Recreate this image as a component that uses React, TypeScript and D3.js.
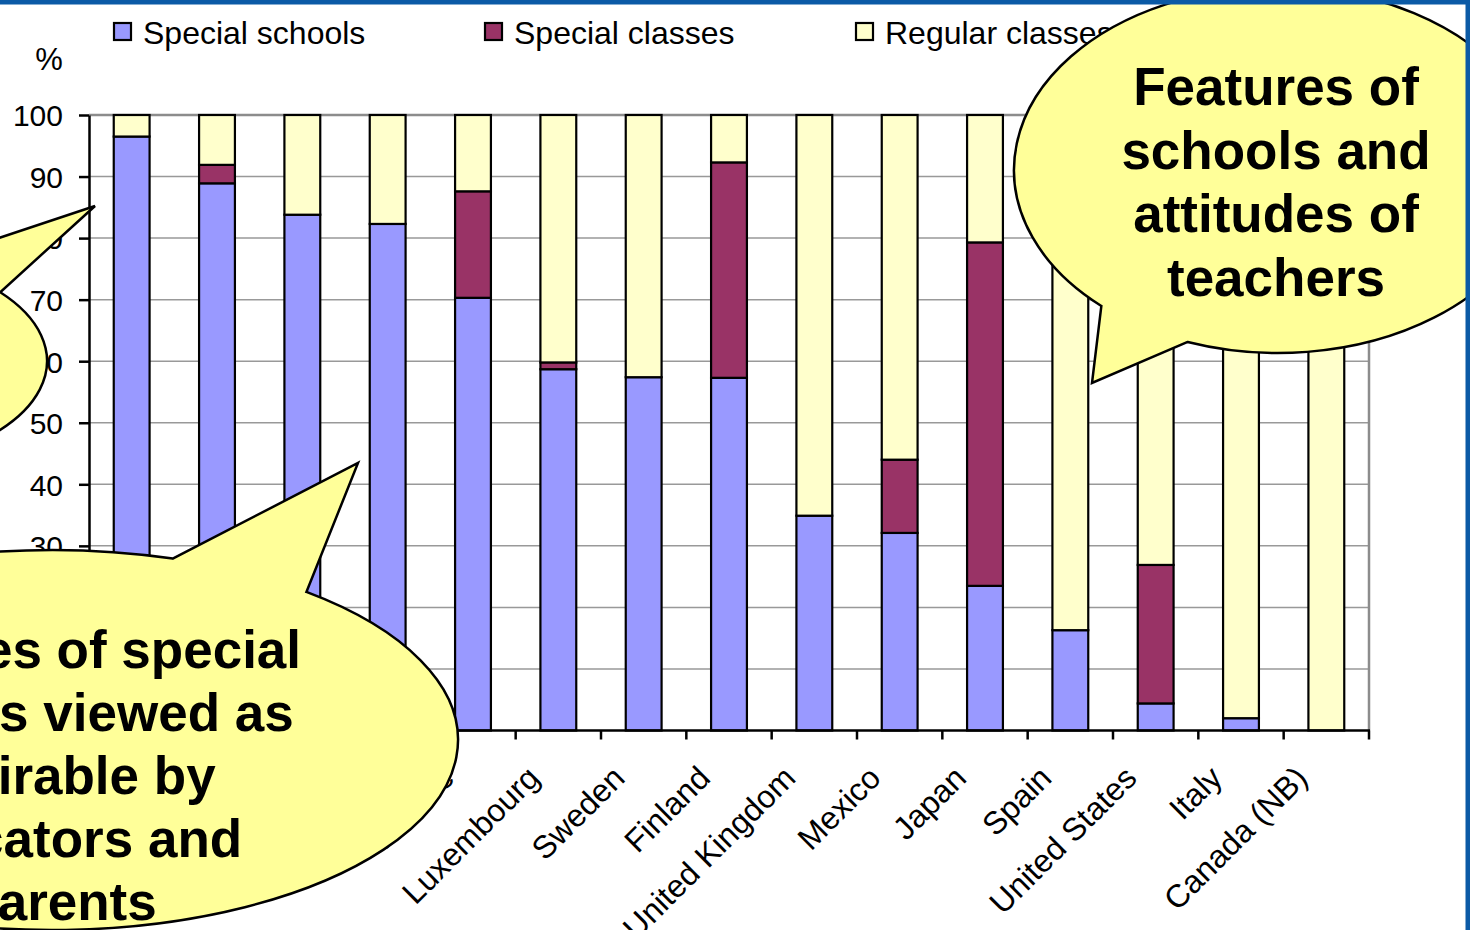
import React, { useRef, useEffect } from 'react';
import * as d3 from 'd3';

// Countries, left to right (first ones sit under the callout in the source)
const categories = [
  'Belgium (Fl.)', 'Germany', 'Hungary', 'Netherlands', 'France',
  'Luxembourg', 'Sweden', 'Finland', 'United Kingdom', 'Mexico',
  'Japan', 'Spain', 'United States', 'Italy', 'Canada (NB)'
];

// % of students in each setting
const specialSchools = [96.5, 88.9, 83.8, 82.3, 70.3, 58.7, 57.4, 57.3, 34.9, 32.1, 23.5, 16.3, 4.4, 2.0, 0];
const specialClasses = [0, 3.0, 0, 0, 17.3, 1.1, 0, 35.0, 0, 11.9, 55.8, 0, 22.5, 0, 0];
const regularClasses = [3.5, 8.1, 16.2, 17.7, 12.4, 40.2, 42.6, 7.7, 65.1, 56.0, 20.7, 83.7, 73.1, 98.0, 100];

const seriesNames = ['Special schools', 'Special classes', 'Regular classes'];
const seriesColors = ['#9999FF', '#993366', '#FFFFCC'];
const yTicks = [0, 10, 20, 30, 40, 50, 60, 70, 80, 90, 100];

const leftCalloutLines = ['Features of special', 'schools viewed as', 'desirable by', 'educators and', 'parents'];
const rightCalloutLines = ['Features of', 'schools and', 'attitudes of', 'teachers'];

const FONT = '"Liberation Sans", Arial, Helvetica, sans-serif';

const App: React.FC = () => {
  const chartRef = useRef<SVGSVGElement | null>(null);

  useEffect(() => {
    if (!chartRef.current) return;
    const svg = d3.select(chartRef.current);
    svg.selectAll('*').remove();

    const width = 1470;
    const height = 930;
    const plot = { left: 89, right: 1369, top: 115, bottom: 730.5 };

    svg.attr('width', width).attr('height', height).style('font-family', FONT);

    svg.append('rect').attr('width', width).attr('height', height).attr('fill', '#fff');

    const x = d3.scaleBand<string>()
      .domain(categories)
      .range([plot.left, plot.right])
      .paddingInner(0.58)
      .paddingOuter(0.29);

    const y = d3.scaleLinear().domain([0, 100]).range([plot.bottom, plot.top]);

    // gridlines
    svg.append('g')
      .selectAll('line')
      .data(yTicks.filter(t => t > 0 && t < 100))
      .join('line')
      .attr('x1', plot.left)
      .attr('x2', plot.right)
      .attr('y1', d => y(d))
      .attr('y2', d => y(d))
      .attr('stroke', '#999')
      .attr('stroke-width', 1.5);

    // plot frame (top + right, grey)
    svg.append('path')
      .attr('d', `M${plot.left},${y(100)}H${plot.right}V${plot.bottom}`)
      .attr('fill', 'none')
      .attr('stroke', '#8c8c8c')
      .attr('stroke-width', 2.5);

    // stacked bars
    const rows = categories.map((c, i) => ({
      category: c,
      ss: specialSchools[i],
      sc: specialClasses[i],
      rc: regularClasses[i]
    }));
    const stacked = d3.stack<any>().keys(['ss', 'sc', 'rc'])(rows);

    svg.append('g')
      .selectAll('g')
      .data(stacked)
      .join('g')
      .attr('fill', (d, i) => seriesColors[i])
      .selectAll('rect')
      .data(d => d.filter(s => s[1] - s[0] > 0))
      .join('rect')
      .attr('x', d => x(d.data.category) || 0)
      .attr('y', d => y(d[1]))
      .attr('width', x.bandwidth())
      .attr('height', d => y(d[0]) - y(d[1]))
      .attr('stroke', '#000')
      .attr('stroke-width', 2.2);

    // y axis
    const yAxis = svg.append('g')
      .attr('transform', `translate(${plot.left},0)`)
      .call(d3.axisLeft(y).tickValues(yTicks).tickSize(10).tickSizeOuter(0).tickPadding(16));
    yAxis.select('.domain').attr('stroke', '#000').attr('stroke-width', 2.5);
    yAxis.selectAll('.tick line').attr('stroke', '#000').attr('stroke-width', 2.5);
    yAxis.selectAll('.tick text')
      .attr('font-size', 30)
      .attr('font-family', FONT)
      .attr('fill', '#000')
      .attr('dy', '0.36em');

    svg.append('text')
      .attr('x', 49)
      .attr('y', 70)
      .attr('text-anchor', 'middle')
      .attr('font-size', 31)
      .text('%');

    // x axis: line, boundary ticks, rotated labels
    const step = x.step();
    svg.append('line')
      .attr('x1', plot.left - 1)
      .attr('x2', plot.right + 1)
      .attr('y1', plot.bottom)
      .attr('y2', plot.bottom)
      .attr('stroke', '#000')
      .attr('stroke-width', 2.5);

    svg.append('g')
      .selectAll('line')
      .data(d3.range(categories.length + 1))
      .join('line')
      .attr('x1', k => plot.left + k * step)
      .attr('x2', k => plot.left + k * step)
      .attr('y1', plot.bottom)
      .attr('y2', plot.bottom + 9)
      .attr('stroke', '#000')
      .attr('stroke-width', 2.5);

    svg.append('g')
      .selectAll('text')
      .data(categories)
      .join('text')
      .attr('transform', d => `translate(${(x(d) || 0) + x.bandwidth() / 2 - 17},780) rotate(-45)`)
      .attr('text-anchor', 'end')
      .attr('font-size', 32)
      .text(d => d);

    // legend
    const legend = svg.append('g')
      .selectAll('g')
      .data(seriesNames)
      .join('g')
      .attr('transform', (d, i) => `translate(${114 + i * 371},23)`);
    legend.append('rect')
      .attr('width', 17)
      .attr('height', 17)
      .attr('fill', (d, i) => seriesColors[i])
      .attr('stroke', '#000')
      .attr('stroke-width', 2.2);
    legend.append('text')
      .attr('x', 29)
      .attr('y', 21)
      .attr('font-size', 32)
      .text(d => d);

    // callouts (ellipse with a wedge tail)
    const callout = (
      cx: number, cy: number, rx: number, ry: number,
      tip: [number, number], a0: number, a1: number
    ) => {
      const pt = (deg: number) => {
        const t = (deg * Math.PI) / 180;
        return [cx + rx * Math.cos(t), cy + ry * Math.sin(t)];
      };
      const p0 = pt(a0);
      const p1 = pt(a1);
      const span = (((a1 - a0) % 360) + 360) % 360;
      const large = span > 180 ? 1 : 0;
      const d = `M${p1[0]},${p1[1]}L${tip[0]},${tip[1]}L${p0[0]},${p0[1]}`
        + `A${rx},${ry} 0 ${large} 1 ${p1[0]},${p1[1]}Z`;
      svg.append('path')
        .attr('d', d)
        .attr('fill', '#FFFF99')
        .attr('stroke', '#000')
        .attr('stroke-width', 2.5)
        .attr('stroke-linejoin', 'miter');
    };

    const calloutText = (lines: string[], cx: number, y0: number, gap: number) => {
      svg.append('g')
        .selectAll('text')
        .data(lines)
        .join('text')
        .attr('x', cx)
        .attr('y', (d, i) => y0 + i * gap)
        .attr('text-anchor', 'middle')
        .attr('font-size', 53)
        .attr('font-weight', 'bold')
        .text(d => d);
    };

    // top-left (text off page)
    callout(-153, 361, 200, 107, [95, 206], -40, -67);

    // bottom-left
    callout(52, 740, 406, 190, [358, 463], -51.2, -72.7);
    calloutText(leftCalloutLines, 61, 668, 63);

    // right
    callout(1278, 170, 264, 183, [1092, 383], 132, 110);
    calloutText(rightCalloutLines, 1276, 105, 63.5);

    // slide frame
    svg.append('rect').attr('x', 0).attr('y', 0).attr('width', width).attr('height', 4.5).attr('fill', '#0B5AA6');
    svg.append('rect').attr('x', 1465.5).attr('y', 0).attr('width', 4.5).attr('height', height).attr('fill', '#0B5AA6');
  }, []);

  return (
    <div style={{ position: 'absolute', left: 0, top: 0, width: 1470, height: 930, overflow: 'hidden' }}>
      <svg ref={chartRef} style={{ display: 'block' }} />
    </div>
  );
};

export default App;
